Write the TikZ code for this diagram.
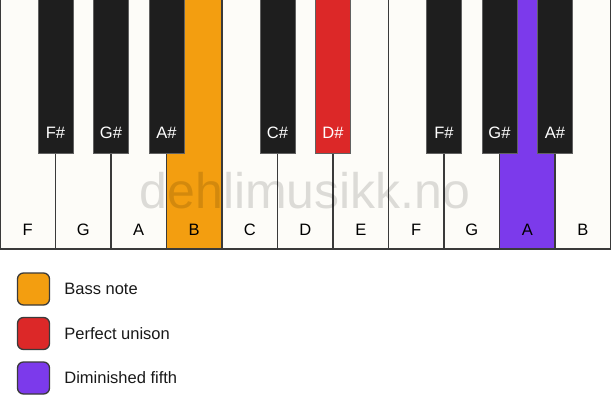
\documentclass[tikz,border=0pt]{standalone}
\usepackage{fontspec}
\setmainfont{Liberation Sans}
\usetikzlibrary{positioning}
\definecolor{bassorange}{HTML}{F39E10}
\definecolor{unisonred}{HTML}{DC2828}
\definecolor{fifthpurple}{HTML}{7C3AEB}
\definecolor{keywhite}{HTML}{FDFCF8}
\definecolor{keyblack}{HTML}{1E1E1E}
\definecolor{keyedge}{HTML}{3A3A3A}

\tikzset{
  keylabel/.style={font=\fontsize{16.5}{19}\selectfont, text=black, inner sep=0pt},
  sharplabel/.style={font=\fontsize{16.5}{19}\selectfont, text=white, inner sep=0pt},
  legendbox/.style={draw=keyedge, line width=1.3pt, rounded corners=6pt, minimum size=32pt, inner sep=0pt},
  legendtext/.style={font=\fontsize{16.5}{19}\selectfont, text=black!90, inner sep=0pt, anchor=west}
}

\begin{document}
\begin{tikzpicture}[x=1pt, y=-1pt]
  \useasboundingbox (0,0) rectangle (611,417);
  \fill[white] (0,0) rectangle (611,417);
  % White keys
  \foreach \n/\c [count=\i from 0] in {F/keywhite, G/keywhite, A/keywhite, B/bassorange, C/keywhite, D/keywhite, E/keywhite, F/keywhite, G/keywhite, A/fifthpurple, B/keywhite} {
    \draw[keyedge, line width=1.2pt, fill=\c] (\i*55.5,-1) rectangle ++(55.5,250);
    \node[keylabel] (w\i) at (\i*55.5+27.75,230) {\n};
  }
  % Watermark
  \node[font=\fontsize{50}{54}\selectfont, text=black, text opacity=0.13, inner sep=0pt] (mark) at (305,191) {dehlimusikk.no};
  % Black keys
  \foreach \n/\b/\c in {F\#/1/keyblack, G\#/2/keyblack, A\#/3/keyblack, C\#/5/keyblack, D\#/6/unisonred, F\#/8/keyblack, G\#/9/keyblack, A\#/10/keyblack} {
    \draw[keyedge!80, line width=0.8pt, fill=\c] (\b*55.5-17.5,-1) rectangle ++(35,154);
    \node[sharplabel] (s\b) at (\b*55.5,133) {\n};
  }
  % Legend
  \node[legendbox, fill=bassorange] (bass) at (33.5,289) {};
  \node[legendtext, right=14pt of bass] (basstext) {Bass note};
  \node[legendbox, fill=unisonred] (unison) at (33.5,333.5) {};
  \node[legendtext, right=14pt of unison] (unisontext) {Perfect unison};
  \node[legendbox, fill=fifthpurple] (fifth) at (33.5,378) {};
  \node[legendtext, right=14pt of fifth] (fifthtext) {Diminished fifth};
\end{tikzpicture}
\end{document}
